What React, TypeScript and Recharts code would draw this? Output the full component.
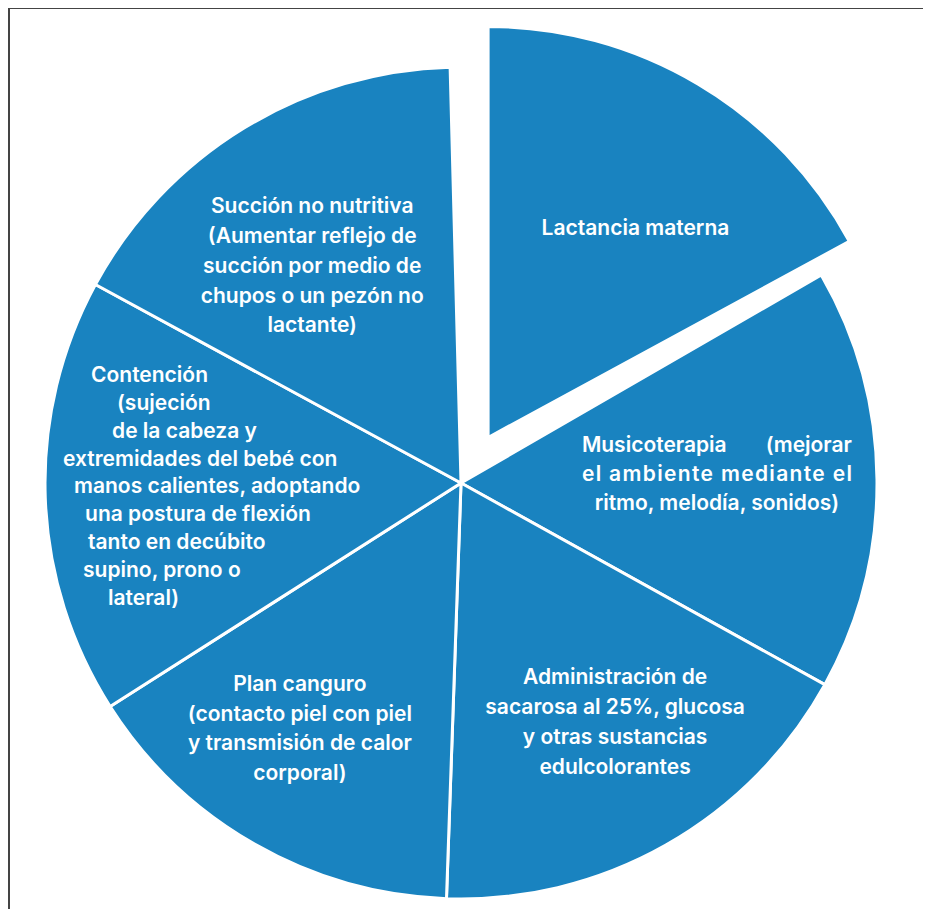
import React from 'react'
import { PieChart, Pie, Cell } from 'recharts'

// medidas no farmacológicas, en sentido horario desde arriba
const TEMAS = ['Lactancia materna', 'Musicoterapia', 'Administración', 'Plan canguro', 'Contención', 'Succión no nutritiva']
const VALORES = [61.5, 59, 63, 55.5, 61, 60]
const TEXTOS = [
  ['Lactancia materna'],
  ['Musicoterapia (mejorar', 'el ambiente mediante el', 'ritmo, melodía, sonidos)'],
  ['Administración de', 'sacarosa al 25%, glucosa', 'y otras sustancias', 'edulcolorantes'],
  ['Plan canguro', '(contacto piel con piel', 'y transmisión de calor', 'corporal)'],
  ['Contención', '(sujeción', 'de la cabeza y', 'extremidades del bebé con', 'manos calientes, adoptando', 'una postura de flexión', 'tanto en decúbito', 'supino, prono o', 'lateral)'],
  ['Succión no nutritiva', '(Aumentar reflejo de', 'succión por medio de', 'chupos o un pezón no', 'lactante)'],
]
const DESTACADO = 0

const data = TEMAS.map((name, i) => ({ name, value: VALORES[i] }))

// layout
const W = 915
const H = 901
const CX = 453
const CY = 475
const R = 416
const R_B = 411
const START = 91.5
const START_B = 90 // la porción separada queda un poco girada
const EXPLODE = 53
const BLUE = '#1983C0'
const FS = 21
const FONT = 'Inter, "Noto Sans", sans-serif'

// posición de cada bloque de texto: distancia y ángulo desde el centro de su pie
const LABEL_POS = [
  { r: 255, a: 54.7 },
  { r: 256, a: 1.6 },
  { r: 286, a: -57.4 },
  { r: 295, a: -123.1 },
  { r: 254, a: 181.1 },
  { r: 262, a: 124.6 },
]
const LABEL_STYLE: any[] = [
  { align: 'center', lh: 30 },
  { align: 'justify', lh: 29, width: 270 },
  { align: 'center', lh: 30 },
  { align: 'center', lh: 29.5 },
  { align: 'left', lh: 27.8, left: -144, indent: [28, 54, 49, 0, 11, 22, 25, 20, 45] },
  { align: 'center', lh: 29.7 },
]
const DY = -2

const total = VALORES.reduce((a, b) => a + b, 0)
const midOf = (idx: number, start: number) => {
  let acc = 0
  for (let i = 0; i < idx; i++) acc += VALORES[i]
  return start - ((acc + VALORES[idx] / 2) / total) * 360
}
const mid = (midOf(DESTACADO, START_B) * Math.PI) / 180
const CX2 = CX + EXPLODE * Math.cos(mid)
const CY2 = CY - EXPLODE * Math.sin(mid)

const makeLabel = (show: (i: number) => boolean) => (props: any) => {
  const { cx, cy, index } = props
  if (!show(index)) return null
  const pos = LABEL_POS[index]
  const st = LABEL_STYLE[index]
  const rad = (pos.a * Math.PI) / 180
  const x = cx + pos.r * Math.cos(rad)
  const y = cy - pos.r * Math.sin(rad) + DY
  const lines = TEXTOS[index]
  const top = y - ((lines.length - 1) * st.lh) / 2
  return (
    <g key={`lbl-${index}`} style={{ pointerEvents: 'none' }}>
      {lines.map((ln, i) => {
        const ly = top + i * st.lh
        const common = { y: ly, fill: '#fff', fontSize: FS, fontWeight: 600, fontFamily: FONT, dominantBaseline: 'central' as any }
        if (st.align === 'left') {
          return <text key={i} x={x + st.left + st.indent[i]} textAnchor="start" {...common}>{ln}</text>
        }
        if (st.align === 'justify' && i < lines.length - 1) {
          const words = ln.split(' ')
          const left = x - st.width / 2
          const right = x + st.width / 2
          if (words.length === 2) {
            return (
              <g key={i}>
                <text x={left} textAnchor="start" {...common}>{words[0]}</text>
                <text x={right} textAnchor="end" {...common}>{words[1]}</text>
              </g>
            )
          }
          return <text key={i} x={left} textAnchor="start" textLength={st.width} lengthAdjust="spacing" {...common}>{ln}</text>
        }
        return <text key={i} x={x} textAnchor="middle" {...common}>{ln}</text>
      })}
    </g>
  )
}

export default function App() {
  return (
    <div style={{ position: 'relative', width: W, height: H }}>
      <div style={{ position: 'absolute', top: -1, left: 0, width: 923, height: 910, boxSizing: 'border-box', borderTop: '2px solid #444', borderLeft: '2px solid #444' }} />
      <PieChart width={W} height={H} margin={{ top: 0, right: 0, bottom: 0, left: 0 }}>
        <Pie data={data} dataKey="value" nameKey="name" cx={CX} cy={CY} outerRadius={R}
          startAngle={START} endAngle={START - 360} isAnimationActive={false}
          labelLine={false} label={makeLabel((i) => i !== DESTACADO)}>
          {data.map((d, i) => (
            <Cell key={i} fill={i === DESTACADO ? 'none' : BLUE} stroke={i === DESTACADO ? 'none' : '#fff'} strokeWidth={3} />
          ))}
        </Pie>
        <Pie data={data} dataKey="value" nameKey="name" cx={CX2} cy={CY2} outerRadius={R_B}
          startAngle={START_B} endAngle={START_B - 360} isAnimationActive={false}
          labelLine={false} label={makeLabel((i) => i === DESTACADO)}>
          {data.map((d, i) => (
            <Cell key={i} fill={i === DESTACADO ? BLUE : 'none'} stroke={i === DESTACADO ? '#fff' : 'none'} strokeWidth={3} />
          ))}
        </Pie>
      </PieChart>
    </div>
  )
}
